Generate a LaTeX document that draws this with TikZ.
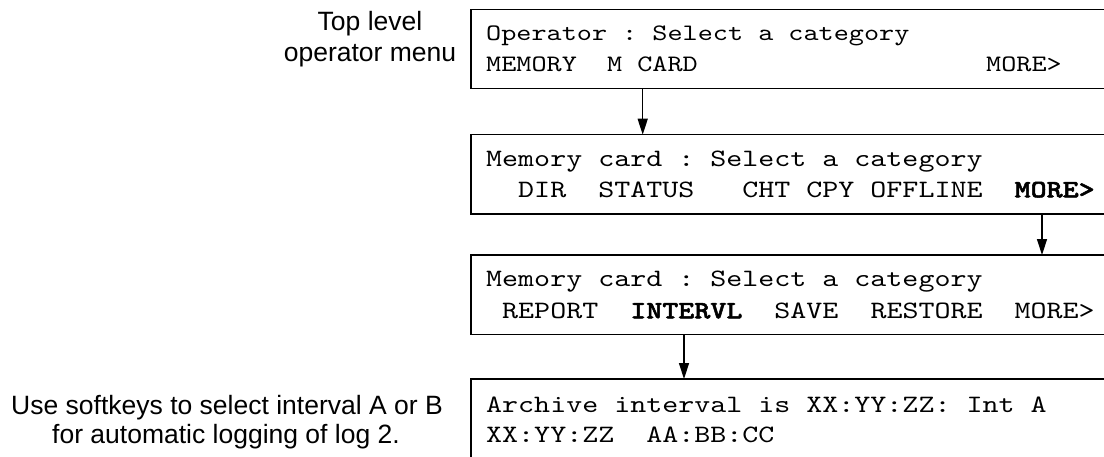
\documentclass[tikz,border=0pt]{standalone}
\usepackage{fontspec}
\setmainfont{Liberation Sans}
\newfontfamily\mono{lmmono10-regular.otf}[FakeStretch=1.22, BoldFont=lmmonolt10-bold.otf, BoldFeatures={FakeBold=2}]
\usetikzlibrary{arrows.meta}
\begin{document}
\begin{tikzpicture}[x=1pt,y=-1pt,
  box/.style={draw, line width=1.5pt, anchor=north west, minimum width=700pt, inner sep=0pt, outer sep=0pt},
  mt/.style={anchor=base west, inner sep=0pt, font=\mono\fontsize{25}{29}\selectfont},
  mtsmall/.style={mt, font=\mono\fontsize{23.6}{28}\selectfont},
  lbl/.style={anchor=base, inner sep=0pt, font=\fontsize{26.5}{30}\selectfont},
  arr/.style={line width=1.4pt, -{Triangle[length=16pt,width=10pt]}}]
\useasboundingbox (0,0) rectangle (1104,456);
\clip (0,0) rectangle (1104,456);
% boxes
\node[box, minimum height=79pt] (box1) at (471,9.3) {};
\node[box, minimum height=79.3pt] (box2) at (471,134.7) {};
\node[box, minimum height=79.3pt] (box3) at (471,255) {};
\node[box, minimum height=120pt] (box4) at (471,379) {};
% texts
\node[mtsmall] (b1a) at (486,40.7) {Operator~:~Select~a~category};
\node[mtsmall] (b1b) at (486,71.7) {MEMORY~~M~CARD};
\node[mtsmall] (b1c) at (986,71.7) {MORE>};
\node[mt] (b2a) at (486,166.7) {Memory~card~:~Select~a~category};
\node[mt] (b2b) at (486,197.3) {~~DIR~~STATUS~~~CHT~CPY~OFFLINE~~\textbf{MORE>}};
\node[mt] (b3a) at (486,286.7) {Memory~card~:~Select~a~category};
\node[mt] (b3b) at (486,318.3) {~REPORT~~\textbf{INTERVL}~~SAVE~~RESTORE~~MORE>};
\node[mt] (b4a) at (486,412.7) {Archive~interval~is~XX:YY:ZZ:~Int~A};
\node[mt] (b4b) at (486,442.7) {XX:YY:ZZ~~AA:BB:CC};
% labels
\node[lbl] (t1) at (370,30.7) {Top level};
\node[lbl] (t2) at (370,61) {operator menu};
\node[lbl] (u1) at (227,414) {Use softkeys to select interval A or B};
\node[lbl] (u2) at (226,443) {for automatic logging of log 2.};
% connectors
\coordinate (c1) at (642.7,0);
\coordinate (c2) at (1042,0);
\coordinate (c3) at (684,0);
\draw[arr] (box1.south -| c1) -- (box2.north -| c1);
\draw[arr] (box2.south -| c2) -- (box3.north -| c2);
\draw[arr] (box3.south -| c3) -- (box4.north -| c3);
\end{tikzpicture}
\end{document}
